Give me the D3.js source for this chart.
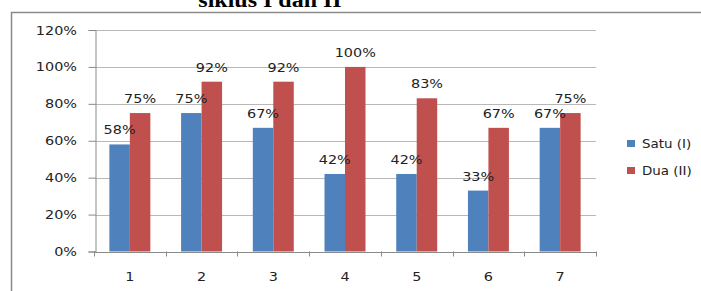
<!DOCTYPE html>
<html>
<head>
<meta charset="utf-8">
<script src="https://cdn.jsdelivr.net/npm/d3@7"></script>
<style>
  body { margin: 0; background: #fff; }
  svg { display: block; }
</style>
</head>
<body>
<svg id="canvas" width="701" height="291"></svg>
<script>
let categories = ['1', '2', '3', '4', '5', '6', '7']
let satu = [0.58, 0.75, 0.67, 0.42, 0.42, 0.33, 0.67]
let dua = [0.75, 0.92, 0.92, 1.00, 0.83, 0.67, 0.75]
let seriesNames = ['Satu (I)', 'Dua (II)']
let seriesColors = ['#4f81bd', '#c0504d']
let yTicks = [0, 0.2, 0.4, 0.6, 0.8, 1.0, 1.2]
let titleText = 'siklus I dan II'

let canvas = d3.select('#canvas')

// text in the picture is a bit stretched sideways
let stretch = 1.2
let addText = (parent, x, y, str, anchor, size, k) => {
  return parent.append('text')
    .attr('transform', 'translate(' + x + ',' + y + ') scale(' + (k || stretch) + ',1)')
    .attr('text-anchor', anchor)
    .style('font-family', '"DejaVu Sans", Verdana, sans-serif')
    .style('font-size', (size || 12) + 'px')
    .style('fill', '#222')
    .text(str)
}

// outer frame (left + top only visible)
canvas.append('path')
  .attr('d', 'M11.5,291 L11.5,12.5 L701,12.5')
  .attr('fill', 'none')
  .attr('stroke', '#8a8a8a')
  .attr('stroke-width', 1.5)

// title, cut at the top
canvas.append('text')
  .attr('transform', 'translate(270,6.5) scale(1.2,1)')
  .attr('text-anchor', 'middle')
  .style('font-family', '"Liberation Serif", "Times New Roman", serif')
  .style('font-weight', 'bold')
  .style('font-size', '20px')
  .text(titleText)

let xScale = d3.scaleBand()
  .domain(categories)
  .range([94, 596])
  .paddingInner(0)
  .paddingOuter(0)

let yScale = d3.scaleLinear()
  .domain([0, 1.2])
  .range([251.5, 30])

// gridlines
canvas.append('g')
  .selectAll('line')
  .data(yTicks.filter(t => t > 0))
  .enter()
  .append('line')
  .attr('x1', 95)
  .attr('x2', 596)
  .attr('y1', (t) => Math.round(yScale(t)) + 0.5)
  .attr('y2', (t) => Math.round(yScale(t)) + 0.5)
  .attr('stroke', '#b8b8b8')
  .attr('stroke-width', 1)

// y axis
let yAxis = d3.axisLeft(yScale)
  .tickValues(yTicks)
  .tickSize(7)
  .tickPadding(11)
  .tickFormat((t) => Math.round(t * 100) + '%')

let yG = canvas.append('g')
  .attr('transform', 'translate(95.5,0)')
  .call(yAxis)
yG.select('.domain').attr('stroke', '#8a8a8a')
yG.selectAll('.tick line').attr('stroke', '#8a8a8a')
yG.selectAll('.tick text').remove()
yTicks.forEach((t) => {
  addText(canvas, 77, yScale(t) + 4.5, Math.round(t * 100) + '%', 'end', 12)
})

// bars
let groupWidth = xScale.bandwidth() / 1.75
let barWidth = groupWidth / 2

let groups = canvas.selectAll('.grp')
  .data(categories)
  .enter()
  .append('g')
  .attr('class', 'grp')

let allSeries = [satu, dua]
allSeries.forEach((values, s) => {
  groups.append('rect')
    .attr('x', (c, i) => xScale(c) + (xScale.bandwidth() - groupWidth) / 2 + s * barWidth)
    .attr('y', (c, i) => yScale(values[i]))
    .attr('width', barWidth)
    .attr('height', (c, i) => yScale(0) - yScale(values[i]))
    .attr('fill', seriesColors[s])
})

// data labels
allSeries.forEach((values, s) => {
  categories.forEach((c, i) => {
    let cx = xScale(c) + (xScale.bandwidth() - groupWidth) / 2 + s * barWidth + barWidth / 2
    addText(canvas, cx, yScale(values[i]) - 10, Math.round(values[i] * 100) + '%', 'middle', 12)
  })
})

// x axis
let xAxis = d3.axisBottom(xScale)
  .tickSize(0)
  .tickFormat('')

let xG = canvas.append('g')
  .attr('transform', 'translate(0,' + (yScale(0) + 0.5) + ')')
  .call(xAxis)
xG.select('.domain').attr('stroke', '#8a8a8a')

let boundaries = categories.map((c) => xScale(c)).concat([xScale.range()[1]])
canvas.append('g')
  .selectAll('line')
  .data(boundaries)
  .enter()
  .append('line')
  .attr('x1', (b) => Math.round(b) + 0.5)
  .attr('x2', (b) => Math.round(b) + 0.5)
  .attr('y1', yScale(0))
  .attr('y2', yScale(0) + 5)
  .attr('stroke', '#8a8a8a')

categories.forEach((c) => {
  addText(canvas, xScale(c) + xScale.bandwidth() / 2, 280.5, c, 'middle', 12)
})

// legend
seriesNames.forEach((name, s) => {
  let ly = 143.5 + s * 27
  canvas.append('rect')
    .attr('x', 627)
    .attr('y', ly - 3.5)
    .attr('width', 8)
    .attr('height', 7)
    .attr('fill', seriesColors[s])
  addText(canvas, 642, ly + 4, name, 'start', 12, 1.12)
})
</script>
</body>
</html>
